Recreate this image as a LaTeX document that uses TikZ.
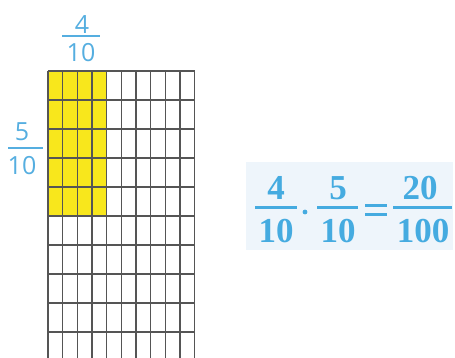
\documentclass[tikz,border=0pt]{standalone}
\usepackage{fontspec}
\setmainfont{Liberation Serif}
\newfontfamily\labfont{Open Sans}
\definecolor{labblue}{HTML}{55AEE0}
\definecolor{eqblue}{HTML}{45ABE0}
\definecolor{boxbg}{HTML}{EEF5FB}
\definecolor{gridc}{HTML}{555555}
\definecolor{fillyel}{HTML}{F8E71C}
\tikzset{
  lab/.style={font=\labfont\fontsize{25}{25}\selectfont, text=labblue, inner sep=0pt},
  labbar/.style={draw=labblue, line width=1.6pt},
  eqnum/.style={font=\bfseries\fontsize{35}{35}\selectfont, text=eqblue, inner sep=0pt},
  eqbar/.style={draw=eqblue, line width=3pt},
  gridline/.style={draw=gridc, line width=1.3pt},
}
\begin{document}
\begin{tikzpicture}[x=1pt,y=-1pt]
\useasboundingbox (0,0) rectangle (455,358);
% yellow area
\fill[fillyel] (48,71) rectangle (106.7,216);
% grid
\foreach \i in {0,...,10} {
  \draw[gridline] ({48+14.65*\i},71) -- ({48+14.65*\i},358);
}
\foreach \j in {0,...,9} {
  \draw[gridline] (48,{71+29*\j}) -- (194.5,{71+29*\j});
}
% top label 4/10
\node[lab] (tn) at (82,25) {4};
\node[lab] (td) at (81,53) {10};
\draw[labbar] (62,36) -- (100,36);
% left label 5/10
\node[lab] (ln) at (22,132) {5};
\node[lab] (ld) at (22,166) {10};
\draw[labbar] (8,148) -- (43,148);
% equation box
\fill[boxbg] (246,162) rectangle (453,250);
\node[eqnum] (n1) at (276,188) {4};
\node[eqnum] (d1) at (276,231) {10};
\draw[eqbar] (255,208) -- (297,208);
\fill[eqblue] (305,212) circle (2.4);
\node[eqnum] (n2) at (338,188) {5};
\node[eqnum] (d2) at (338,231) {10};
\draw[eqbar] (317,208) -- (358,208);
\draw[eqbar] (365,206) -- (387,206);
\draw[eqbar] (365,215) -- (387,215);
\node[eqnum] (n3) at (420,188) {20};
\node[eqnum] (d3) at (423,231) {100};
\draw[eqbar] (393,208) -- (452,208);
\end{tikzpicture}
\end{document}
